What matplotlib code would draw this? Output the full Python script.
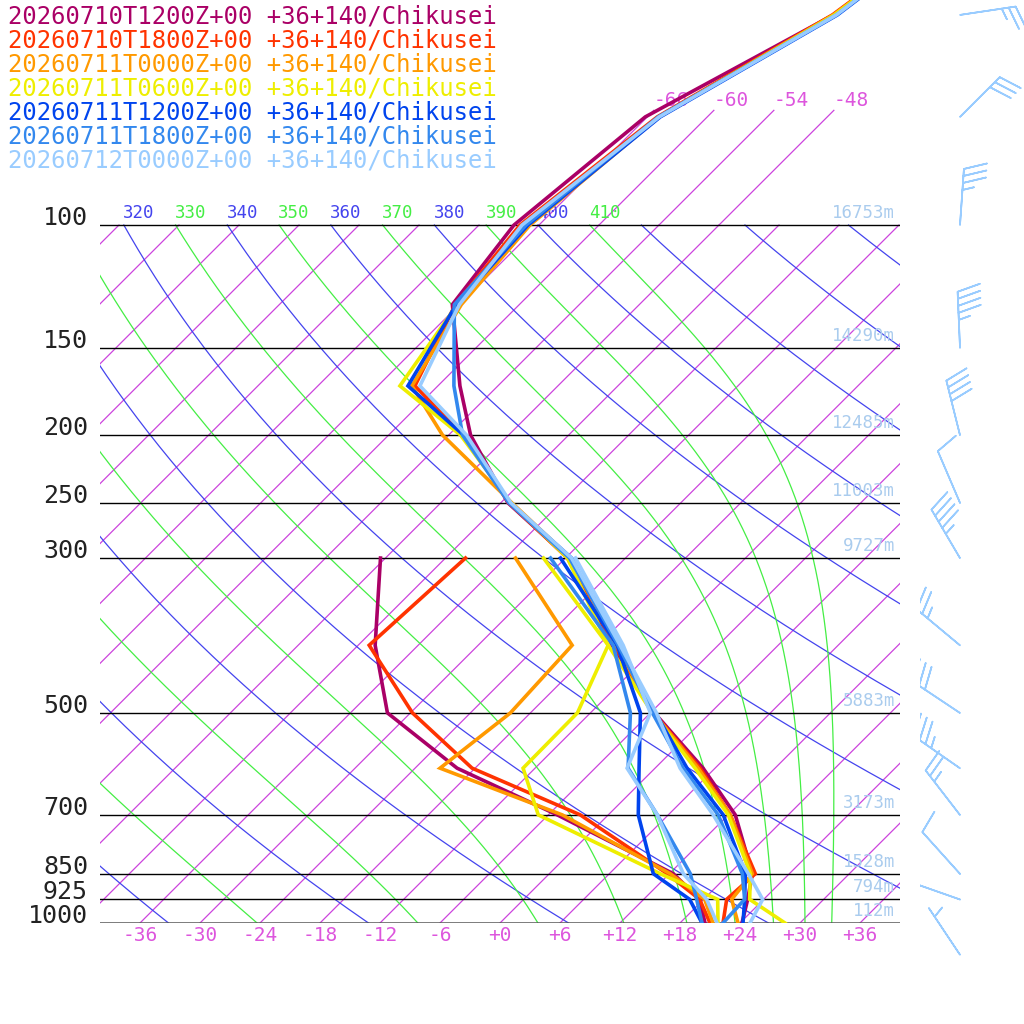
import numpy as np
import matplotlib
matplotlib.use("Agg")
import matplotlib.pyplot as plt
import matplotlib.transforms as mtransforms

# pressure levels (hPa) of the soundings
levels = [1000, 925, 850, 700, 600, 500, 400, 300, 250, 200, 170, 130, 100, 70, 50, 45]
dew_levels = [1000, 925, 850, 700, 600, 500, 400, 300]

names = [
    "20260710T1200Z+00 +36+140/Chikusei",
    "20260710T1800Z+00 +36+140/Chikusei",
    "20260711T0000Z+00 +36+140/Chikusei",
    "20260711T0600Z+00 +36+140/Chikusei",
    "20260711T1200Z+00 +36+140/Chikusei",
    "20260711T1800Z+00 +36+140/Chikusei",
    "20260712T0000Z+00 +36+140/Chikusei",
]
colors = ["#aa0066", "#ff3300", "#ff9900", "#eeee00", "#0044ee", "#3388ee", "#99ccff"]

temp_1 = [24.2, 22.4, 20.3, 12.7, 4.8, -5.6, -16.6, -29.7, -41.3, -51.8, -57.8, -66.7, -68.5, -66.2, -57.6, -56.5]
temp_2 = [22.3, 20.3, 20.6, 12.2, 4.5, -5.7, -16.4, -29.8, -41.2, -52.5, -62.3, -66.4, -67.9, -65.0, -57.7, -56.6]
temp_3 = [23.8, 20.8, 20.3, 12.2, 4.3, -5.7, -16.2, -29.5, -40.9, -54.6, -62.6, -65.8, -66.9, -64.8, -57.6, -56.5]
temp_4 = [28.5, 22.6, 20.1, 12.0, 4.0, -5.8, -17.0, -29.8, -41.0, -52.8, -63.8, -66.2, -67.4, -64.8, -57.5, -56.5]
temp_5 = [24.3, 22.1, 19.6, 11.5, 3.2, -5.5, -16.1, -29.4, -41.1, -52.5, -63.0, -66.3, -67.1, -64.7, -57.2, -56.2]
temp_6 = [22.3, 22.1, 19.3, 11.0, 2.8, -5.8, -16.0, -29.6, -41.2, -52.6, -58.4, -66.5, -67.3, -64.9, -57.3, -56.3]
temp_7 = [25.0, 23.9, 19.9, 10.5, 2.5, -5.4, -15.8, -29.4, -41.0, -52.2, -61.8, -66.0, -67.7, -64.8, -57.3, -56.3]

dew_1 = [20.5, 17.6, 12.4, -5.1, -19.8, -32.3, -40.3, -48.5]
dew_2 = [21.0, 17.6, 11.8, -2.8, -18.3, -29.8, -40.9, -40.0]
dew_3 = [21.3, 18.1, 12.1, -4.6, -21.5, -20.0, -20.6, -35.0]
dew_4 = [21.8, 19.4, 11.1, -7.0, -13.2, -13.3, -17.0, -32.2]
dew_5 = [20.2, 16.6, 10.4, 3.0, -1.6, -7.0, -16.1, -30.5]
dew_6 = [20.2, 17.3, 14.1, 4.9, -2.7, -8.0, -16.5, -31.5]
dew_7 = [21.7, 18.3, 13.4, 4.9, -2.8, -6.0, -15.5, -29.0]

temps = [temp_1, temp_2, temp_3, temp_4, temp_5, temp_6, temp_7]
dews = [dew_1, dew_2, dew_3, dew_4, dew_5, dew_6, dew_7]

# standard level lines and heights
std_levels = [100, 150, 200, 250, 300, 500, 700, 850, 925, 1000]
heights = ["16753m", "14290m", "12485m", "11003m", "9727m", "5883m", "3173m", "1528m", "794m", "112m"]

# wind barbs (hPa, speed kt, direction the shaft points: dx, dy)
barb_p = [50, 70, 100, 150, 200, 250, 300, 400, 500, 600, 700, 850, 925, 1110]
barb_speed = [25, 30, 35, 45, 40, 10, 45, 25, 30, 35, 25, 10, 10, 5]
barb_dx = [40, 28, 3, -2, -10, -15, -20, -30, -33, -33, -27, -27, -37, -20]
barb_dy = [6, 28, 43, 47, 40, 35, 34, 25, 22, 23, 35, 30, 13, 30]

# background line families
dry_thetas = list(range(200, 540, 20))      # blue
moist_thetas = list(range(250, 420, 20))    # green, theta at 100 hPa

SKEW = 69.9  # degrees per decade of pressure
P_TOP = 47.6


def skew(t, p):
    return np.asarray(t) + SKEW * np.log10(1000.0 / np.asarray(p))


def moist_from_top(theta):
    """Pseudo-adiabat through theta at 100 hPa, integrated down to 1000 hPa."""
    Rd, cp, Lv, eps = 287.0, 1004.0, 2.5e6, 0.622
    ps = np.logspace(2, 3, 500)
    T = theta * 0.1 ** 0.286
    out = []
    for i, p in enumerate(ps):
        out.append(T - 273.15)
        if i + 1 == len(ps):
            break
        es = 6.112 * np.exp(17.67 * (T - 273.15) / (T - 29.65))
        rs = eps * es / max(p - es, 1.0)
        dTdp = (Rd * T + Lv * rs) / (p * (cp + Lv * Lv * rs * eps / (Rd * T * T)))
        T += dTdp * (ps[i + 1] - p)
    return ps, np.array(out)


fig = plt.figure(figsize=(10.24, 10.24), dpi=100)
ax = fig.add_axes([100 / 1024, 101 / 1024, 800 / 1024, 923 / 1024])
ax.set_yscale("log")
ax.set_ylim(1000, P_TOP)
ax.set_xlim(-40, 40)
ax.axis("off")

pp = np.logspace(3, 2, 200)
mono = "DejaVu Sans Mono"

# isotherms
for t in range(-150, 60, 6):
    ax.plot(skew(t, pp), pp, color="#cc44dd", lw=0.9, zorder=1)
for t in [-66, -60, -54, -48]:
    pu = np.array([100, 68.5])
    ax.plot(skew(t, pu), pu, color="#cc44dd", lw=0.9, zorder=1)
    ax.text(skew(t, 68.5), 68.5, f"{t}", color="#dd55dd", fontsize=14,
            family=mono, ha="left", va="bottom")


def label_top(th, c):
    x100 = skew(th * 0.1 ** 0.286 - 273.15, 100)
    if -41 < x100 < 25:
        ax.text(x100 + 1.5, 99, str(th), color=c, fontsize=12.5,
                family=mono, ha="center", va="bottom")


# dry adiabats
for th in dry_thetas:
    t = th * (pp / 1000.0) ** 0.286 - 273.15
    ax.plot(skew(t, pp), pp, color="#4444ee", lw=0.9, zorder=1)
    if th <= 410:
        label_top(th, "#4444ee")

# moist adiabats
for th in moist_thetas:
    ps, ts = moist_from_top(th)
    ax.plot(skew(ts, ps), ps, color="#44ee44", lw=0.9, zorder=1)
    label_top(th, "#44ee44")

# level lines
off = mtransforms.offset_copy(ax.transData, fig=fig, x=0, y=7, units="dots")
for p, h in zip(std_levels, heights):
    ax.plot([-40, 40], [p, p], color="#555555" if p == 1000 else "black",
            lw=1.8 if p == 1000 else 1.0, zorder=2)
    ax.text(39.5, p * 0.99, h, color="#aaccee", fontsize=12.5,
            family=mono, ha="right", va="bottom", zorder=2)
    ax.text(-41.2, p, str(p), color="#222222", fontsize=18,
            family=mono, ha="right", va="center", transform=off)

# temperature axis labels
for t in range(-36, 37, 6):
    lab = f"+{t}" if t >= 0 else f"{t}"
    ax.text(t, 1000 * 10 ** (13 / 699), lab, color="#dd55dd", fontsize=14,
            family=mono, ha="center", va="center")

# soundings
for c, t, d in zip(colors, temps, dews):
    ax.plot(skew(d, dew_levels), dew_levels, color=c, lw=2.6, zorder=3,
            solid_joinstyle="miter")
    ax.plot(skew(t, levels), levels, color=c, lw=2.6, zorder=3,
            solid_joinstyle="miter")

# legend text
for i, (n, c) in enumerate(zip(names, colors)):
    fig.text(8 / 1024, 1 - (17 + 24 * i) / 1024, n, color=c, fontsize=17.2,
             family=mono, ha="left", va="center")

# wind barbs
bx = fig.add_axes([920 / 1024, 0, 104 / 1024, 1])
bx.set_yscale("log")
p_bottom = 1000 * 10 ** (101 / 699)
bx.set_ylim(p_bottom, P_TOP)
bx.set_xlim(0, 104)
bx.axis("off")
dx = np.array(barb_dx, float)
dy = np.array(barb_dy, float)
norm = np.hypot(dx, dy)
u = -np.array(barb_speed) * dx / norm
v = -np.array(barb_speed) * dy / norm
bx.barbs(np.full(len(barb_p), 40), barb_p, u, v, color="#99ccff",
         length=9, linewidth=1.2, sizes=dict(emptybarb=0))

fig.savefig("out.png", dpi=100, facecolor="white")
